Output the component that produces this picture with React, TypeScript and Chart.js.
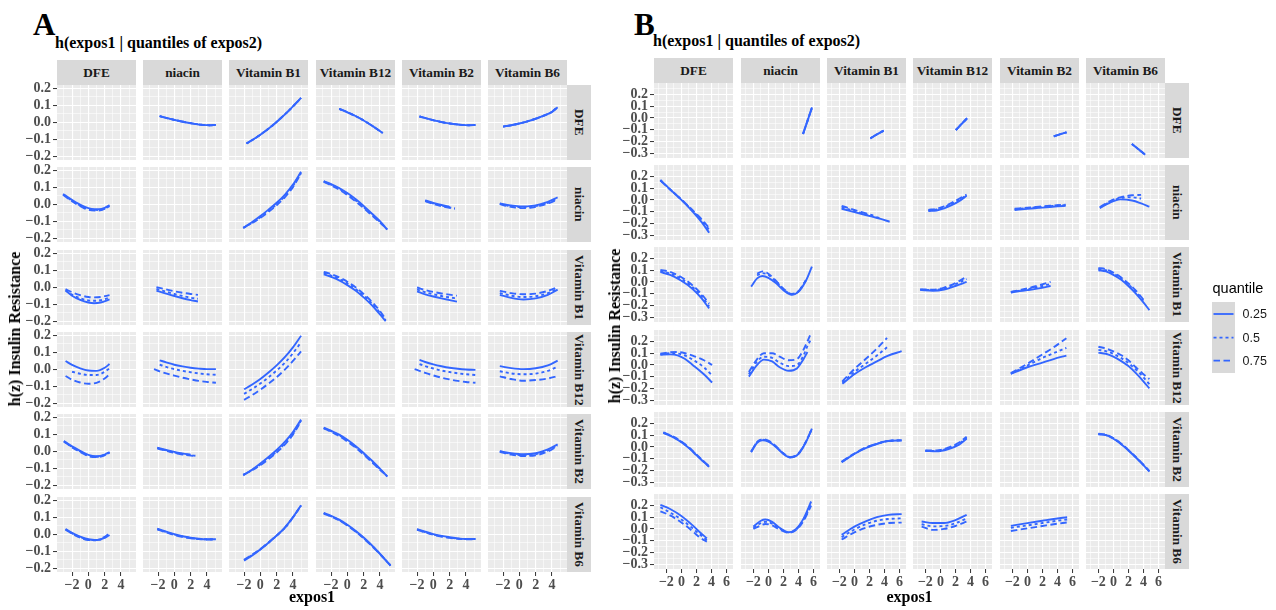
import React, { useEffect, useRef } from "react";
import { Chart, registerables } from "chart.js";
Chart.register(...registerables);

type Row = (number | null)[];
interface Curve { x: number[]; q25: Row; q50: Row; q75: Row; }
const same = (x: number[], y: Row): Curve => ({ x, q25: y, q50: y, q75: y });

// ---------- categories / ticks ----------
const VARIABLES = ["DFE", "niacin", "Vitamin B1", "Vitamin B12", "Vitamin B2", "Vitamin B6"];
const CODES = ["DFE", "NIA", "B1", "B12", "B2", "B6"];
const QUANTILES = ["0.25", "0.5", "0.75"];
const X_TICKS_A = [-2, 0, 2, 4];
const X_TICKS_B = [-2, 0, 2, 4, 6];
const Y_TICKS_A = [-0.2, -0.1, 0, 0.1, 0.2];
const Y_TICKS_B = [-0.3, -0.2, -0.1, 0, 0.1, 0.2];

// ---------- Figure A (row = expos2, column = expos1) ----------
const A_DFE_NIA = same([-1.8, -0.5, 0.5, 1.5, 2.5, 3.5, 4.3, 5.1], [0.035, 0.019, 0.008, -0.002, -0.01, -0.016, -0.018, -0.016]);
const A_DFE_B1 = same([-1.7, -0.5, 0.5, 1.6, 2.5, 3.5, 4.3, 5.0], [-0.125, -0.09, -0.056, -0.015, 0.023, 0.068, 0.107, 0.143]);
const A_DFE_B12 = same([-1.0, 0, 1, 2, 3, 4.35], [0.078, 0.058, 0.036, 0.01, -0.02, -0.064]);
const A_DFE_B2 = same([-1.7, -0.5, 0.5, 1.5, 2.5, 3.5, 4.3, 5.17], [0.033, 0.018, 0.006, -0.004, -0.011, -0.016, -0.018, -0.017]);
const A_DFE_B6 = same([-2, -1, 0, 1, 2, 3, 4, 4.7], [-0.026, -0.018, -0.008, 0.005, 0.02, 0.038, 0.06, 0.088]);

const A_NIA_DFE: Curve = { x: [-3.1, -2.5, -1.5, -0.5, 0.4, 1.3, 2, 2.6],
  q25: [0.06, 0.04, 0.01, -0.015, -0.028, -0.03, -0.022, -0.006],
  q50: [0.057, 0.036, 0.005, -0.02, -0.032, -0.034, -0.026, -0.01],
  q75: [0.055, 0.033, 0.002, -0.024, -0.036, -0.037, -0.028, -0.012] };
const A_NIA_B1: Curve = { x: [-2.1, -1, 0, 1, 2, 3, 4, 5],
  q25: [-0.14, -0.105, -0.07, -0.032, 0.008, 0.055, 0.115, 0.19],
  q50: [-0.14, -0.108, -0.076, -0.04, 0.0, 0.047, 0.107, 0.185],
  q75: [-0.138, -0.11, -0.08, -0.045, -0.006, 0.04, 0.1, 0.18] };
const A_NIA_B12: Curve = { x: [-2.9, -2, -1, 0, 1, 2, 3, 4, 4.9],
  q25: [0.135, 0.118, 0.095, 0.065, 0.03, -0.01, -0.055, -0.1, -0.15],
  q50: [0.133, 0.114, 0.09, 0.059, 0.023, -0.017, -0.06, -0.104, -0.148],
  q75: [0.131, 0.11, 0.085, 0.053, 0.017, -0.023, -0.065, -0.108, -0.145] };
const A_NIA_B2: Curve = { x: [-1, 0, 1, 2, 2.65],
  q25: [0.022, 0.008, -0.005, -0.016, null],
  q50: [0.02, 0.004, -0.009, -0.019, -0.025],
  q75: [0.018, 0.001, -0.012, -0.022, -0.027] };
const A_NIA_B6: Curve = { x: [-2.4, -1.5, -0.5, 0.5, 1.5, 2.5, 3.5, 4.7],
  q25: [0.005, -0.004, -0.01, -0.013, -0.01, -0.001, 0.014, 0.04],
  q50: [0.003, -0.008, -0.015, -0.018, -0.015, -0.006, 0.008, 0.034],
  q75: [0.0, -0.012, -0.02, -0.023, -0.02, -0.01, 0.004, 0.028] };

const A_B1_DFE: Curve = { x: [-2.8, -2, -1, 0, 0.7, 1.5, 2.6],
  q25: [-0.02, -0.05, -0.075, -0.09, -0.094, -0.09, -0.072],
  q50: [-0.018, -0.044, -0.065, -0.078, -0.08, -0.077, -0.062],
  q75: [-0.012, -0.03, -0.047, -0.058, -0.06, -0.058, -0.047] };
const A_B1_NIA: Curve = { x: [-2.2, -1, 0, 1, 2, 2.9],
  q25: [-0.02, -0.038, -0.052, -0.065, -0.076, -0.084],
  q50: [-0.01, -0.027, -0.04, -0.052, -0.062, -0.068],
  q75: [0.0, -0.013, -0.024, -0.033, -0.04, -0.045] };
const A_B1_B12: Curve = { x: [-2.9, -2, -1, 0, 1, 2, 3, 4, 4.7],
  q25: [0.075, 0.06, 0.04, 0.012, -0.02, -0.06, -0.105, -0.16, -0.2],
  q50: [0.082, 0.068, 0.049, 0.022, -0.01, -0.05, -0.095, -0.15, -0.193],
  q75: [0.09, 0.077, 0.058, 0.032, 0.0, -0.04, -0.085, -0.14, -0.186] };
const A_B1_B2: Curve = { x: [-2, -1, 0, 1, 2, 2.9],
  q25: [-0.025, -0.042, -0.055, -0.066, -0.076, -0.085],
  q50: [-0.013, -0.03, -0.042, -0.052, -0.06, -0.066],
  q75: [-0.002, -0.017, -0.028, -0.037, -0.044, -0.05] };
const A_B1_B6: Curve = { x: [-2.4, -1, 0.5, 2, 3.5, 4.7],
  q25: [-0.045, -0.063, -0.072, -0.066, -0.045, -0.015],
  q50: [-0.035, -0.05, -0.058, -0.053, -0.035, -0.01],
  q75: [-0.022, -0.035, -0.042, -0.038, -0.022, 0.0] };

const A_B12_DFE: Curve = { x: [-2.8, -2, -1, 0, 1, 2, 2.6],
  q25: [0.048, 0.025, 0.005, -0.008, -0.01, 0.008, 0.03],
  q50: [null, -0.015, -0.027, -0.034, -0.034, -0.016, 0.005],
  q75: [-0.04, -0.062, -0.078, -0.086, -0.08, -0.055, -0.03] };
const A_B12_NIA: Curve = { x: [-2.5, -1.8, -1, 0, 1, 2, 3, 4, 5.1],
  q25: [null, 0.052, 0.04, 0.026, 0.016, 0.008, 0.003, 0.0, 0.0],
  q50: [null, 0.026, 0.013, 0.0, -0.01, -0.018, -0.025, -0.03, -0.033],
  q75: [0.0, -0.013, -0.025, -0.038, -0.05, -0.06, -0.069, -0.075, -0.08] };
const A_B12_B1: Curve = { x: [-2, -1, 0, 1, 2, 3, 4, 5],
  q25: [-0.118, -0.09, -0.058, -0.02, 0.022, 0.07, 0.128, 0.196],
  q50: [-0.145, -0.116, -0.084, -0.048, -0.008, 0.037, 0.093, 0.158],
  q75: [-0.18, -0.152, -0.12, -0.085, -0.047, -0.003, 0.048, 0.104] };
const A_B12_B2: Curve = { x: [-2.3, -1.7, -1, 0, 1, 2, 3, 4, 5.17],
  q25: [null, 0.054, 0.042, 0.028, 0.017, 0.008, 0.002, -0.002, -0.004],
  q50: [null, 0.03, 0.018, 0.004, -0.008, -0.017, -0.024, -0.03, -0.034],
  q75: [0.0, -0.01, -0.022, -0.037, -0.05, -0.06, -0.069, -0.075, -0.08] };
const A_B12_B6: Curve = { x: [-2.4, -1, 0.5, 2, 3.5, 4.7],
  q25: [0.018, 0.006, 0.0, 0.005, 0.022, 0.05],
  q50: [-0.012, -0.025, -0.03, -0.026, -0.01, 0.014],
  q75: [-0.042, -0.058, -0.068, -0.064, -0.055, -0.04] };

const A_B2_DFE: Curve = { x: [-3, -2, -1, 0, 1, 2, 2.6],
  q25: [0.06, 0.028, 0.002, -0.022, -0.03, -0.02, -0.005],
  q50: [0.058, 0.025, -0.002, -0.026, -0.033, -0.022, -0.008],
  q75: [0.056, 0.022, -0.005, -0.029, -0.035, -0.024, -0.01] };
const A_B2_NIA: Curve = { x: [-2.1, -1, 0, 1, 2, 2.6],
  q25: [0.02, 0.007, -0.004, -0.013, -0.021, null],
  q50: [0.018, 0.004, -0.008, -0.017, -0.024, -0.027],
  q75: [0.016, 0.002, -0.01, -0.02, -0.026, -0.029] };
const A_B2_B1: Curve = { x: [-2.1, -1, 0, 1, 2, 3, 4, 5],
  q25: [-0.142, -0.108, -0.072, -0.034, 0.007, 0.054, 0.112, 0.185],
  q50: [-0.14, -0.11, -0.078, -0.042, -0.002, 0.045, 0.104, 0.18],
  q75: [-0.138, -0.112, -0.082, -0.047, -0.008, 0.038, 0.097, 0.176] };
const A_B2_B12: Curve = { x: [-2.9, -2, -1, 0, 1, 2, 3, 4, 4.9],
  q25: [0.138, 0.12, 0.097, 0.067, 0.031, -0.01, -0.055, -0.102, -0.15],
  q50: [0.136, 0.117, 0.093, 0.062, 0.026, -0.015, -0.06, -0.106, -0.148],
  q75: [0.134, 0.114, 0.089, 0.057, 0.021, -0.02, -0.064, -0.109, -0.146] };
const A_B2_B6: Curve = { x: [-2.4, -1, 0.5, 2, 3.5, 4.7],
  q25: [0.0, -0.012, -0.018, -0.012, 0.01, 0.04],
  q50: [-0.002, -0.016, -0.023, -0.018, 0.004, 0.035],
  q75: [-0.004, -0.02, -0.028, -0.024, -0.002, 0.03] };

const A_B6_DFE: Curve = { x: [-2.8, -2, -1, 0, 1, 2, 2.6],
  q25: [0.03, 0.008, -0.015, -0.03, -0.035, -0.022, -0.005],
  q50: [0.028, 0.005, -0.018, -0.033, -0.036, -0.02, 0.0],
  q75: [0.026, 0.003, -0.02, -0.035, -0.034, -0.016, 0.006] };
const A_B6_NIA: Curve = { x: [-2.1, -1, 0, 1, 2, 3, 4, 5.1],
  q25: [0.032, 0.015, 0.0, -0.012, -0.021, -0.027, -0.03, -0.03],
  q50: [0.03, 0.012, -0.003, -0.014, -0.023, -0.028, -0.03, -0.03],
  q75: [0.028, 0.01, -0.005, -0.016, -0.024, -0.029, -0.031, -0.031] };
const A_B6_B1: Curve = { x: [-2, -1, 0, 1, 2, 3, 4, 5],
  q25: [-0.155, -0.125, -0.09, -0.05, -0.008, 0.038, 0.1, 0.17],
  q50: [-0.152, -0.123, -0.089, -0.05, -0.009, 0.036, 0.097, 0.168],
  q75: [-0.15, -0.12, -0.087, -0.049, -0.008, 0.037, 0.098, 0.168] };
const A_B6_B12: Curve = { x: [-2.9, -2, -1, 0, 1, 2, 3, 4, 5.3],
  q25: [0.125, 0.108, 0.085, 0.055, 0.02, -0.02, -0.065, -0.115, -0.185],
  q50: [0.123, 0.105, 0.082, 0.052, 0.017, -0.023, -0.067, -0.116, -0.184],
  q75: [0.121, 0.103, 0.08, 0.05, 0.015, -0.025, -0.069, -0.117, -0.183] };
const A_B6_B2: Curve = { x: [-2, -1, 0, 1, 2, 3, 4, 5.2],
  q25: [0.03, 0.015, 0.0, -0.01, -0.018, -0.025, -0.028, -0.028],
  q50: [0.028, 0.012, -0.002, -0.012, -0.02, -0.026, -0.029, -0.029],
  q75: [0.026, 0.01, -0.004, -0.014, -0.022, -0.027, -0.03, -0.03] };

// ---------- Figure B ----------
const B_DFE_NIA = same([4.62, 5.2, 5.82], [-0.137, -0.027, 0.09]);
const B_DFE_B1 = same([2.14, 3.0, 3.91], [-0.174, -0.141, -0.109]);
const B_DFE_B12 = same([2.06, 2.8, 3.56], [-0.103, -0.053, -0.003]);
const B_DFE_B2 = same([3.52, 4.4, 5.22], [-0.157, -0.139, -0.123]);
const B_DFE_B6 = same([2.47, 3.3, 4.24], [-0.222, -0.265, -0.314]);

const B_NIA_DFE: Curve = { x: [-2.8, -1.5, 0, 1.5, 2.7, 3.7],
  q25: [0.17, 0.09, 0.0, -0.1, -0.19, -0.28],
  q50: [0.168, 0.09, 0.002, -0.093, -0.175, -0.255],
  q75: [0.165, 0.088, 0.004, -0.088, -0.165, -0.24] };
const B_NIA_B1: Curve = { x: [-1.7, -0.5, 1, 2.5, 3.5, 4.7],
  q25: [-0.075, -0.095, -0.12, -0.145, -0.162, -0.186],
  q50: [-0.065, -0.085, -0.113, -0.14, -0.158, null],
  q75: [-0.05, -0.075, -0.105, -0.133, null, null] };
const B_NIA_B12: Curve = { x: [-1.6, -0.5, 0.5, 1.5, 2.5, 3.5],
  q25: [-0.095, -0.09, -0.072, -0.045, -0.01, 0.035],
  q50: [-0.09, -0.082, -0.062, -0.035, 0.0, 0.04],
  q75: [-0.085, -0.075, -0.055, -0.025, 0.01, 0.045] };
const B_NIA_B2: Curve = { x: [-1.7, 0, 1.5, 3, 4, 5.1],
  q25: [-0.086, -0.076, -0.068, -0.06, -0.055, -0.05],
  q50: [-0.08, -0.07, -0.062, -0.054, -0.048, -0.044],
  q75: [-0.075, -0.066, -0.058, -0.05, -0.044, -0.04] };
const B_NIA_B6: Curve = { x: [-1.8, -0.5, 0.9, 2.5, 3.7, 4.8],
  q25: [-0.07, -0.025, 0.005, -0.005, -0.03, -0.058],
  q50: [-0.066, -0.018, 0.015, 0.022, 0.012, null],
  q75: [-0.062, -0.012, 0.022, 0.04, 0.043, null] };

const B_B1_DFE: Curve = { x: [-2.8, -1.5, 0, 1.5, 2.7, 3.7],
  q25: [0.083, 0.06, 0.01, -0.06, -0.14, -0.226],
  q50: [0.092, 0.072, 0.025, -0.045, -0.122, -0.21],
  q75: [0.103, 0.085, 0.04, -0.03, -0.105, -0.185] };
const B_B1_NIA: Curve = { x: [-2.3, -1.5, -0.8, 0, 1, 2, 3.1, 4, 5, 5.8],
  q25: [-0.04, 0.03, 0.05, 0.035, -0.01, -0.07, -0.11, -0.085, 0.01, 0.13],
  q50: [null, 0.055, 0.075, 0.06, 0.005, -0.06, -0.105, -0.082, 0.012, null],
  q75: [null, 0.07, 0.09, 0.07, 0.01, -0.058, -0.102, -0.08, 0.015, null] };
const B_B1_B12: Curve = { x: [-2.7, -1, 0.5, 2, 3.5],
  q25: [-0.068, -0.075, -0.065, -0.035, 0.0],
  q50: [-0.066, -0.07, -0.055, -0.02, 0.025],
  q75: [-0.064, -0.066, -0.048, -0.01, 0.045] };
const B_B1_B2: Curve = { x: [-2.2, -1, 0, 1.5, 3.1],
  q25: [-0.09, -0.079, -0.07, -0.055, -0.035],
  q50: [-0.088, -0.074, -0.062, -0.042, -0.017],
  q75: [-0.085, -0.069, -0.055, -0.03, 0.0] };
const B_B1_B6: Curve = { x: [-2, -1, 0, 1, 2, 3, 4, 4.8],
  q25: [0.1, 0.09, 0.06, 0.02, -0.035, -0.1, -0.175, -0.24],
  q50: [0.11, 0.1, 0.072, 0.032, -0.022, -0.086, -0.16, null],
  q75: [0.12, 0.108, 0.08, 0.04, -0.013, -0.075, -0.15, null] };

const B_B12_DFE: Curve = { x: [-2.8, -1.5, -0.5, 0.5, 1.5, 3, 4.1],
  q25: [0.087, 0.09, 0.082, 0.05, 0.0, -0.08, -0.15],
  q50: [0.09, 0.1, 0.097, 0.08, 0.045, -0.02, -0.09],
  q75: [0.095, 0.108, 0.11, 0.1, 0.08, 0.04, 0.0] };
const B_B12_NIA: Curve = { x: [-2.6, -1.5, -0.6, 0.5, 1.5, 2.7, 3.8, 4.6, 5.2, 5.6],
  q25: [-0.1, 0.0, 0.045, 0.03, -0.02, -0.05, -0.03, 0.04, 0.11, null],
  q50: [-0.08, 0.03, 0.07, 0.06, 0.02, -0.01, 0.0, 0.07, 0.16, 0.21],
  q75: [-0.06, 0.05, 0.1, 0.1, 0.07, 0.04, 0.05, 0.12, 0.2, 0.26] };
const B_B12_B1: Curve = { x: [-1.6, 0, 1.5, 3, 4.35, 6.3],
  q25: [-0.16, -0.08, -0.02, 0.03, 0.075, 0.117],
  q50: [-0.15, -0.06, 0.01, 0.08, 0.15, null],
  q75: [-0.14, -0.035, 0.05, 0.14, 0.23, null] };
const B_B12_B2: Curve = { x: [-2.2, 0, 2, 3.5, 5.2],
  q25: [-0.077, -0.02, 0.02, 0.05, 0.08],
  q50: [-0.075, -0.005, 0.06, 0.1, 0.146],
  q75: [-0.07, 0.01, 0.09, 0.15, 0.228] };
const B_B12_B6: Curve = { x: [-2, -1, 0, 1, 2, 3, 4, 4.8],
  q25: [0.105, 0.095, 0.07, 0.035, -0.01, -0.07, -0.14, -0.2],
  q50: [0.128, 0.118, 0.094, 0.06, 0.017, -0.04, -0.105, -0.165],
  q75: [0.155, 0.14, 0.115, 0.085, 0.04, -0.02, -0.08, -0.12] };

const B_B2_DFE: Curve = { x: [-2.4, -1, 0, 1, 2, 3, 3.7],
  q25: [0.12, 0.08, 0.04, -0.01, -0.07, -0.13, -0.17],
  q50: [0.122, 0.083, 0.043, -0.007, -0.067, -0.127, -0.168],
  q75: [0.124, 0.085, 0.046, -0.004, -0.064, -0.124, -0.166] };
const B_B2_NIA: Curve = { x: [-2.3, -1.5, -0.8, 0, 1, 2, 2.9, 4, 5, 5.8],
  q25: [-0.045, 0.035, 0.057, 0.045, 0.0, -0.06, -0.09, -0.06, 0.04, 0.157],
  q50: [-0.042, 0.04, 0.062, 0.05, 0.004, -0.057, -0.088, -0.058, 0.043, 0.155],
  q75: [-0.04, 0.043, 0.065, 0.053, 0.007, -0.055, -0.087, -0.057, 0.045, 0.153] };
const B_B2_B1: Curve = { x: [-1.7, 0, 1.5, 3, 4.5, 6.3],
  q25: [-0.13, -0.06, -0.01, 0.025, 0.05, 0.055],
  q50: [-0.128, -0.058, -0.008, 0.027, 0.051, 0.056],
  q75: [-0.126, -0.056, -0.006, 0.028, 0.052, 0.057] };
const B_B2_B12: Curve = { x: [-2, -0.5, 1, 2.5, 3.5],
  q25: [-0.035, -0.038, -0.02, 0.02, 0.07],
  q50: [-0.033, -0.034, -0.013, 0.03, 0.078],
  q75: [-0.03, -0.03, -0.007, 0.038, 0.086] };
const B_B2_B6: Curve = { x: [-2, -1, 0, 1, 2, 3, 4, 4.8],
  q25: [0.108, 0.1, 0.07, 0.025, -0.03, -0.09, -0.155, -0.21],
  q50: [0.11, 0.102, 0.073, 0.028, -0.027, -0.088, -0.153, -0.208],
  q75: [0.112, 0.104, 0.075, 0.03, -0.025, -0.086, -0.151, -0.206] };

const B_B6_DFE: Curve = { x: [-2.8, -1.5, 0, 1.5, 2.5, 3.4],
  q25: [0.205, 0.17, 0.11, 0.03, -0.03, -0.08],
  q50: [0.185, 0.14, 0.08, 0.005, -0.05, -0.095],
  q75: [0.15, 0.115, 0.055, -0.02, -0.075, -0.108] };
const B_B6_NIA: Curve = { x: [-2, -1, -0.4, 0.5, 1.5, 2.7, 3.7, 4.7, 5.7],
  q25: [0.02, 0.07, 0.08, 0.06, 0.01, -0.028, 0.0, 0.09, 0.234],
  q50: [0.01, 0.05, 0.06, 0.045, 0.005, -0.03, -0.005, 0.08, 0.21],
  q75: [0.0, 0.03, 0.042, 0.03, -0.005, -0.032, -0.01, 0.07, 0.2] };
const B_B6_B1: Curve = { x: [-1.7, 0, 1.5, 3, 4.5, 6.3],
  q25: [-0.05, 0.02, 0.065, 0.1, 0.12, 0.126],
  q50: [-0.07, -0.005, 0.04, 0.07, 0.085, 0.09],
  q75: [-0.09, -0.03, 0.01, 0.035, 0.05, 0.054] };
const B_B6_B12: Curve = { x: [-2.5, -1, 0.5, 2, 3.5],
  q25: [0.063, 0.05, 0.05, 0.075, 0.12],
  q50: [0.04, 0.022, 0.025, 0.048, 0.09],
  q75: [0.02, -0.008, 0.0, 0.025, 0.062] };
const B_B6_B2: Curve = { x: [-2.2, 0, 2, 3.5, 5.3],
  q25: [0.026, 0.05, 0.07, 0.085, 0.1],
  q50: [0.01, 0.03, 0.05, 0.065, 0.08],
  q75: [-0.018, 0.005, 0.025, 0.04, 0.055] };

// lookup tables built from the named arrays
const A_CURVES: Record<string, Curve> = {
  DFE_NIA: A_DFE_NIA, DFE_B1: A_DFE_B1, DFE_B12: A_DFE_B12, DFE_B2: A_DFE_B2, DFE_B6: A_DFE_B6,
  NIA_DFE: A_NIA_DFE, NIA_B1: A_NIA_B1, NIA_B12: A_NIA_B12, NIA_B2: A_NIA_B2, NIA_B6: A_NIA_B6,
  B1_DFE: A_B1_DFE, B1_NIA: A_B1_NIA, B1_B12: A_B1_B12, B1_B2: A_B1_B2, B1_B6: A_B1_B6,
  B12_DFE: A_B12_DFE, B12_NIA: A_B12_NIA, B12_B1: A_B12_B1, B12_B2: A_B12_B2, B12_B6: A_B12_B6,
  B2_DFE: A_B2_DFE, B2_NIA: A_B2_NIA, B2_B1: A_B2_B1, B2_B12: A_B2_B12, B2_B6: A_B2_B6,
  B6_DFE: A_B6_DFE, B6_NIA: A_B6_NIA, B6_B1: A_B6_B1, B6_B12: A_B6_B12, B6_B2: A_B6_B2,
};
const B_CURVES: Record<string, Curve> = {
  DFE_NIA: B_DFE_NIA, DFE_B1: B_DFE_B1, DFE_B12: B_DFE_B12, DFE_B2: B_DFE_B2, DFE_B6: B_DFE_B6,
  NIA_DFE: B_NIA_DFE, NIA_B1: B_NIA_B1, NIA_B12: B_NIA_B12, NIA_B2: B_NIA_B2, NIA_B6: B_NIA_B6,
  B1_DFE: B_B1_DFE, B1_NIA: B_B1_NIA, B1_B12: B_B1_B12, B1_B2: B_B1_B2, B1_B6: B_B1_B6,
  B12_DFE: B_B12_DFE, B12_NIA: B_B12_NIA, B12_B1: B_B12_B1, B12_B2: B_B12_B2, B12_B6: B_B12_B6,
  B2_DFE: B_B2_DFE, B2_NIA: B_B2_NIA, B2_B1: B_B2_B1, B2_B12: B_B2_B12, B2_B6: B_B2_B6,
  B6_DFE: B_B6_DFE, B6_NIA: B_B6_NIA, B6_B1: B_B6_B1, B6_B12: B_B6_B12, B6_B2: B_B6_B2,
};

// ---------- styling / layout ----------
const SERIF = "'Liberation Serif', 'Times New Roman', serif";
const SANS = "'Liberation Sans', Arial, sans-serif";
const LINE = "#3366FF";
const AX_W = 56;
const AX_H = 24;
const VPAD = 9;
const TICK_SIZE = 14;
const STRIP_SIZE = 13.3;

interface Fig {
  name: string; title: string; curves: Record<string, Curve>;
  left0: number; colPitch: number; top0: number; rowPitch: number; pw: number; ph: number;
  xMin: number; xMax: number; yMin: number; yMax: number; xTicks: number[]; yTicks: number[];
  labelX: number; titleX: number; titleTop: number; yTitleX: number;
}

const FIG_A: Fig = {
  name: "A", title: "h(expos1 | quantiles of expos2)", curves: A_CURVES,
  left0: 56.7, colPitch: 86.3, top0: 85, rowPitch: 82.3, pw: 79, ph: 75,
  xMin: -3.85, xMax: 5.85, yMin: -0.222, yMax: 0.218, xTicks: X_TICKS_A, yTicks: Y_TICKS_A,
  labelX: 33, titleX: 55, titleTop: 35, yTitleX: 15,
};
const FIG_B: Fig = {
  name: "B", title: "h(expos1 | quantiles of expos2)", curves: B_CURVES,
  left0: 654.3, colPitch: 86.3, top0: 82.7, rowPitch: 82.3, pw: 79, ph: 75,
  xMin: -3.65, xMax: 6.88, yMin: -0.342, yMax: 0.298, xTicks: X_TICKS_B, yTicks: Y_TICKS_B,
  labelX: 634, titleX: 653, titleTop: 33, yTitleX: 615,
};

const isIn = (arr: number[], v: number) => arr.some((t) => Math.abs(t - v) < 1e-6);
const fmtX = (v: number) => (v < -1e-9 ? "\u2212" : "") + String(Math.round(Math.abs(v)));
const fmtY = (v: number) => (v < -1e-9 ? "\u2212" : "") + Math.abs(v).toFixed(1);

const bgPlugin = {
  id: "panelBg",
  beforeDraw(chart: any) {
    const { ctx, chartArea: a } = chart;
    ctx.save();
    ctx.fillStyle = "#EBEBEB";
    ctx.fillRect(a.left, a.top, a.right - a.left, a.bottom - a.top);
    ctx.restore();
  },
};

const DASHES: Record<string, number[]> = { q75: [6.5, 3.5], q50: [3, 3], q25: [] };

const noPad = (s: any) => {
  s.paddingTop = 0; s.paddingBottom = 0; s.paddingLeft = 0; s.paddingRight = 0;
};

function Panel({ fig, r, c }: { fig: Fig; r: number; c: number }) {
  const ref = useRef<HTMLCanvasElement>(null);
  const showY = c === 0;
  const showX = r === 5;
  const vpad = showY ? VPAD : 0;
  const pl = Math.round(fig.left0 + c * fig.colPitch);
  const pt = Math.round(fig.top0 + r * fig.rowPitch);
  const left = pl - (showY ? AX_W : 0);
  const top = pt - vpad;
  const w = fig.pw + (showY ? AX_W : 0);
  const h = fig.ph + (showX ? AX_H : 0) + 2 * vpad;
  const curve = fig.curves[`${CODES[r]}_${CODES[c]}`];

  useEffect(() => {
    const tickFont = { family: SERIF, size: TICK_SIZE, weight: "bold" as const };
    const datasets = curve
      ? (["q75", "q50", "q25"] as const).map((k, i) => ({
          label: QUANTILES[2 - i],
          data: curve.x
            .map((x, j) => ({ x, y: curve[k][j] }))
            .filter((p) => p.y !== null && p.y !== undefined),
          borderColor: LINE,
          borderWidth: 1.9,
          borderDash: DASHES[k],
          pointRadius: 0,
          fill: false,
          cubicInterpolationMode: "monotone" as const,
        }))
      : [];
    const chart = new Chart(ref.current as HTMLCanvasElement, {
      type: "line",
      data: { datasets },
      options: {
        animation: false,
        responsive: false,
        maintainAspectRatio: false,
        events: [],
        layout: { padding: { top: vpad, bottom: vpad, left: 0, right: 0 }, autoPadding: false } as any,
        plugins: { legend: { display: false }, tooltip: { enabled: false } },
        scales: {
          x: {
            type: "linear",
            position: "bottom",
            min: fig.xMin,
            max: fig.xMax,
            afterFit: (s: any) => { s.height = showX ? AX_H : 0; noPad(s); },
            border: { display: false },
            grid: {
              color: "#FFFFFF",
              lineWidth: (ctx: any) => (isIn(fig.xTicks, ctx.tick?.value) ? 1.1 : 0.55),
              drawTicks: showX,
              tickLength: 4,
              tickWidth: 1,
              tickColor: (ctx: any) => (isIn(fig.xTicks, ctx.tick?.value) ? "#333333" : "rgba(0,0,0,0)"),
            },
            ticks: {
              display: showX,
              stepSize: 1,
              includeBounds: false,
              autoSkip: false,
              maxRotation: 0,
              minRotation: 0,
              padding: 1,
              color: "#4D4D4D",
              font: tickFont,
              callback: (v: any) => (isIn(fig.xTicks, Number(v)) ? fmtX(Number(v)) : ""),
            },
          },
          y: {
            type: "linear",
            position: "left",
            min: fig.yMin,
            max: fig.yMax,
            afterFit: (s: any) => { s.width = showY ? AX_W : 0; noPad(s); },
            border: { display: false },
            grid: {
              color: "#FFFFFF",
              lineWidth: (ctx: any) => (isIn(fig.yTicks, ctx.tick?.value) ? 1.1 : 0.55),
              drawTicks: showY,
              tickLength: 4,
              tickWidth: 1,
              tickColor: (ctx: any) => (isIn(fig.yTicks, ctx.tick?.value) ? "#333333" : "rgba(0,0,0,0)"),
            },
            ticks: {
              display: showY,
              stepSize: 0.05,
              includeBounds: false,
              autoSkip: false,
              padding: 2,
              color: "#4D4D4D",
              font: tickFont,
              callback: (v: any) => (isIn(fig.yTicks, Number(v)) ? fmtY(Number(v)) : ""),
            },
          },
        },
      } as any,
      plugins: [bgPlugin],
    });
    return () => chart.destroy();
  }, []);

  return (
    <canvas
      ref={ref}
      width={w}
      height={h}
      style={{ position: "absolute", left, top, width: w, height: h }}
    />
  );
}

function Txt({ x, y, size, text, family = SERIF, weight = "bold", color = "#000", anchor = "left", rotate = false }: any) {
  const style: React.CSSProperties = {
    position: "absolute",
    left: x,
    top: y,
    fontFamily: family,
    fontWeight: weight,
    fontSize: size,
    color,
    lineHeight: 1,
    whiteSpace: "nowrap",
    transform: rotate
      ? "translate(-50%, -50%) rotate(-90deg)"
      : anchor === "center"
      ? "translate(-50%, -50%)"
      : "translate(0, -50%)",
  };
  return <div style={style}>{text}</div>;
}

function Facet({ fig }: { fig: Fig }) {
  const cells: React.ReactNode[] = [];
  const stripH = 25;
  const lastRight = Math.round(fig.left0 + 5 * fig.colPitch) + fig.pw;
  for (let c = 0; c < 6; c++) {
    const pl = Math.round(fig.left0 + c * fig.colPitch);
    const tt = Math.round(fig.top0) - stripH;
    cells.push(
      <div key={`ts${c}`} style={{ position: "absolute", left: pl, top: tt, width: fig.pw, height: stripH, background: "#D9D9D9",
        display: "flex", alignItems: "center", justifyContent: "center", fontFamily: SERIF, fontWeight: "bold", fontSize: STRIP_SIZE, color: "#1A1A1A", whiteSpace: "nowrap" }}>
        {VARIABLES[c]}
      </div>
    );
  }
  for (let r = 0; r < 6; r++) {
    const pt = Math.round(fig.top0 + r * fig.rowPitch);
    cells.push(
      <div key={`rs${r}`} style={{ position: "absolute", left: lastRight, top: pt, width: 24, height: fig.ph, background: "#D9D9D9",
        display: "flex", alignItems: "center", justifyContent: "center" }}>
        <span style={{ writingMode: "vertical-rl", fontFamily: SERIF, fontWeight: "bold", fontSize: STRIP_SIZE, color: "#1A1A1A", whiteSpace: "nowrap" }}>
          {VARIABLES[r]}
        </span>
      </div>
    );
    for (let c = 0; c < 6; c++) cells.push(<Panel key={`p${r}_${c}`} fig={fig} r={r} c={c} />);
  }
  const gridLeft = Math.round(fig.left0);
  const gridRight = lastRight;
  const gridTop = Math.round(fig.top0);
  const gridBottom = Math.round(fig.top0 + 5 * fig.rowPitch) + fig.ph;
  return (
    <>
      <div style={{ position: "absolute", left: fig.labelX, top: 9, fontFamily: SERIF, fontWeight: "bold", fontSize: 31, lineHeight: 1 }}>{fig.name}</div>
      <div style={{ position: "absolute", left: fig.titleX, top: fig.titleTop, fontFamily: SERIF, fontWeight: "bold", fontSize: 16, lineHeight: 1, whiteSpace: "nowrap" }}>{fig.title}</div>
      {cells}
      <Txt x={fig.yTitleX} y={(gridTop + gridBottom) / 2} size={16} text="h(z) Insulin Resistance" rotate />
      <Txt x={(gridLeft + gridRight) / 2} y={597} size={16} text="expos1" anchor="center" />
    </>
  );
}

function Legend() {
  const ys = [12, 35.7, 58.7];
  const dash = ["", "3 3", "6.5 3.5"];
  return (
    <>
      <Txt x={1212.5} y={288} size={14.5} family={SANS} weight="normal" text="quantile" />
      <svg style={{ position: "absolute", left: 1212, top: 302 }} width={23} height={71}>
        <rect x={0} y={0} width={23} height={71} fill="#D9D9D9" />
        {ys.map((y, i) => (
          <line key={i} x1={1.5} x2={21.5} y1={y} y2={y} stroke={LINE} strokeWidth={1.8} strokeDasharray={dash[i] || undefined} />
        ))}
      </svg>
      {QUANTILES.map((q, i) => (
        <Txt key={q} x={1242.5} y={302 + ys[i]} size={12.5} family={SANS} weight="normal" color="#1A1A1A" text={q} />
      ))}
    </>
  );
}

export default function App() {
  return (
    <div style={{ position: "fixed", left: 0, top: 0, width: 1276, height: 610, background: "#FFFFFF", overflow: "hidden" }}>
      <Facet fig={FIG_A} />
      <Facet fig={FIG_B} />
      <Legend />
    </div>
  );
}
